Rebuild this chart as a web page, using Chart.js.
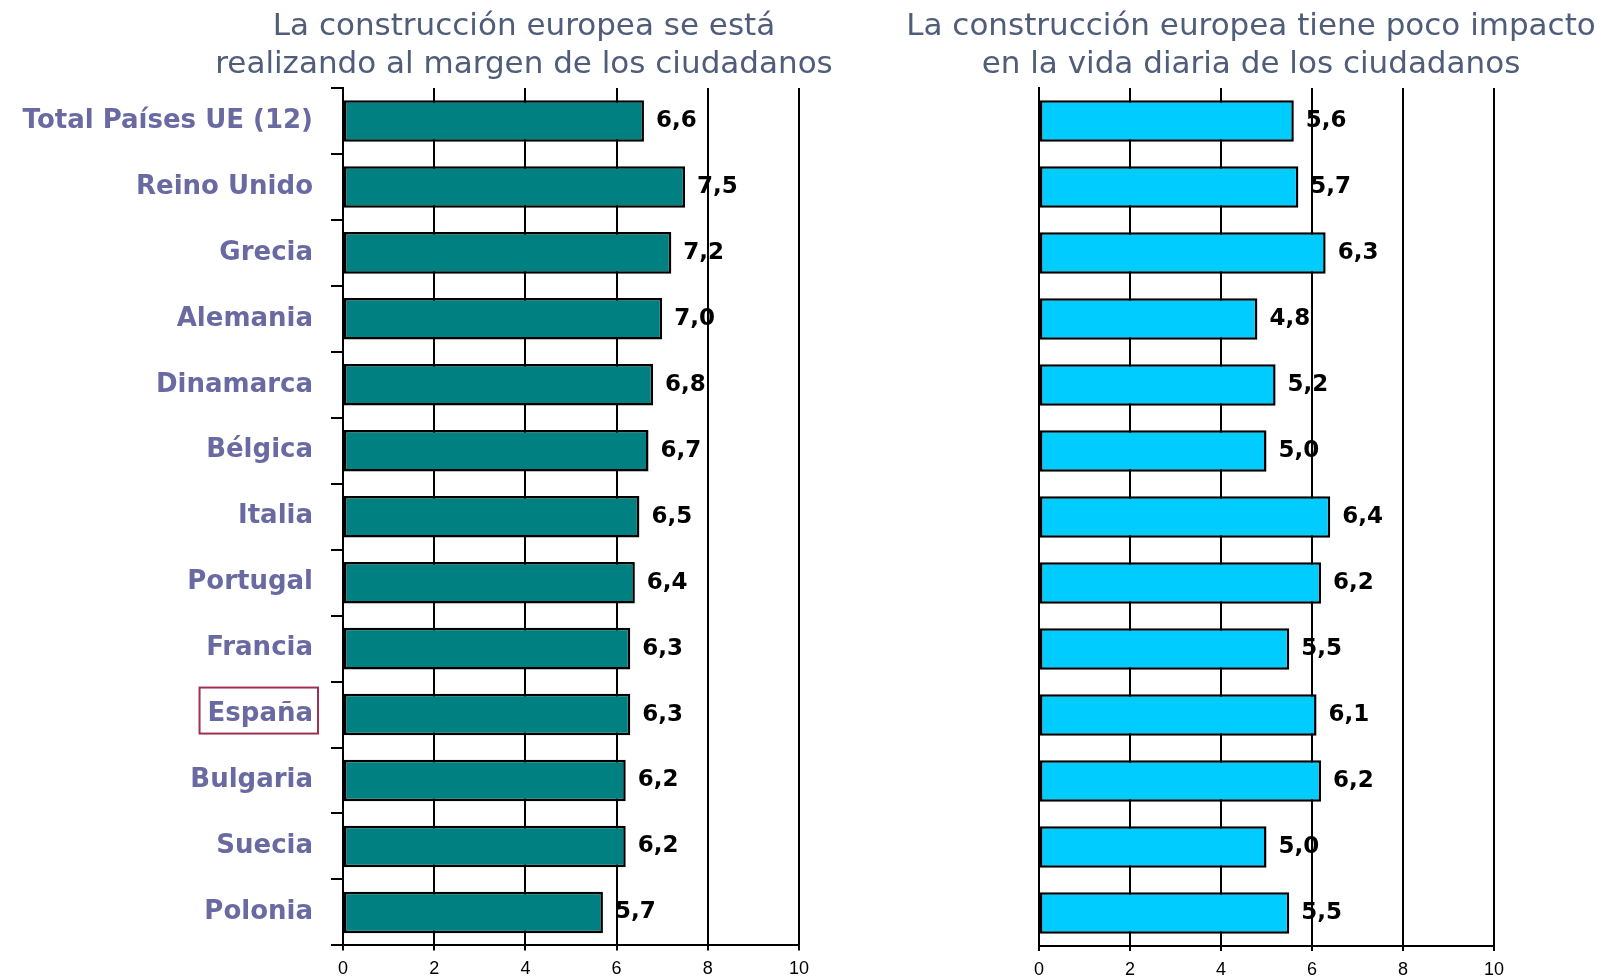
<!DOCTYPE html>
<html lang="es">
<head>
<meta charset="utf-8">
<title>La construcción europea</title>
<script src="https://cdn.jsdelivr.net/npm/chart.js@4.4.1/dist/chart.umd.min.js"></script>
<style>
  body { margin: 0; background: #fff; }
  #izq { position: absolute; left: 0; top: 0; }
  #der { position: absolute; left: 850px; top: 0; }
</style>
</head>
<body>
<canvas id="izq" width="850" height="979"></canvas>
<canvas id="der" width="760" height="979"></canvas>
<script>
// Datos
const paises = ['Total Países UE (12)', 'Reino Unido', 'Grecia', 'Alemania', 'Dinamarca', 'Bélgica',
  'Italia', 'Portugal', 'Francia', 'España', 'Bulgaria', 'Suecia', 'Polonia'];
const margen = [6.6, 7.5, 7.2, 7.0, 6.8, 6.7, 6.5, 6.4, 6.3, 6.3, 6.2, 6.2, 5.7];
const impacto = [5.6, 5.7, 6.3, 4.8, 5.2, 5.0, 6.4, 6.2, 5.5, 6.1, 6.2, 5.0, 5.5];
const ticksX = [0, 2, 4, 6, 8, 10];
const tituloIzq = ['La construcción europea se está', 'realizando al margen de los ciudadanos'];
const tituloDer = ['La construcción europea tiene poco impacto', 'en la vida diaria de los ciudadanos'];
const destacado = 'España';

// Valor al final de cada barra (6,6 ...)
const etiquetas = {
  id: 'etiquetas',
  afterDatasetsDraw(chart) {
    const ctx = chart.ctx;
    const datos = chart.data.datasets[0].data;
    ctx.save();
    ctx.font = 'bold 23px "DejaVu Sans"';
    ctx.fillStyle = '#000';
    ctx.textBaseline = 'middle';
    chart.getDatasetMeta(0).data.forEach((bar, i) => {
      ctx.fillText(datos[i].toFixed(1).replace('.', ','), bar.x + 12, bar.y);
    });
    ctx.restore();
  }
};

// Título de dos líneas
const titulo = {
  id: 'titulo',
  afterDraw(chart, args, opts) {
    const ctx = chart.ctx;
    ctx.save();
    ctx.font = '31px "DejaVu Sans"';
    ctx.fillStyle = '#4f5d7b';
    ctx.textAlign = 'center';
    opts.lineas.forEach((t, i) => ctx.fillText(t, opts.x, 35 + i * 38));
    ctx.restore();
  }
};

// Recuadro alrededor de España
const recuadro = {
  id: 'recuadro',
  afterDraw(chart) {
    const ctx = chart.ctx;
    const i = paises.indexOf(destacado);
    const yc = chart.scales.y.getPixelForTick(i);
    ctx.save();
    ctx.font = 'bold 26px "DejaVu Sans"';
    const w = ctx.measureText(destacado).width;
    const der = chart.chartArea.left - 25;
    ctx.strokeStyle = '#a0304f';
    ctx.lineWidth = 2;
    ctx.strokeRect(der - w - 13, yc - 27, w + 13, 46);
    ctx.restore();
  }
};

function grafico(id, datos, color, conPaises, lineas, xTitulo, anchoEje, margenDer, extra) {
  return new Chart(document.getElementById(id), {
    type: 'bar',
    data: {
      labels: paises,
      datasets: [{
        data: datos,
        backgroundColor: color,
        borderColor: '#000',
        borderWidth: 2.5,
        borderSkipped: false,
        barPercentage: 0.63,
        categoryPercentage: 1
      }]
    },
    options: {
      indexAxis: 'y',
      responsive: false,
      animation: false,
      devicePixelRatio: 1,
      layout: { padding: { top: 88, right: margenDer, left: 0, bottom: 0 } },
      plugins: {
        legend: { display: false },
        tooltip: { enabled: false },
        titulo: { lineas: lineas, x: xTitulo }
      },
      scales: {
        x: {
          min: ticksX[0],
          max: ticksX[ticksX.length - 1],
          afterBuildTicks: s => { s.ticks = ticksX.map(v => ({ value: v })); },
          afterFit: s => { s.height = 33; },
          border: { color: '#000', width: 2 },
          grid: { color: '#000', lineWidth: 2, tickLength: 5 },
          ticks: { color: '#000', padding: 8, font: { family: 'Liberation Sans', size: 18 } }
        },
        y: {
          afterFit: s => { s.width = anchoEje; },
          border: { color: '#000', width: 2 },
          grid: { display: conPaises, drawOnChartArea: false, color: '#000', lineWidth: 2, tickLength: 12 },
          ticks: {
            display: conPaises,
            color: '#6a6aa2',
            padding: 18,
            font: { family: 'DejaVu Sans', size: 26, weight: 'bold' }
          }
        }
      }
    },
    plugins: [etiquetas, titulo].concat(extra)
  });
}

grafico('izq', margen, '#008080', true, tituloIzq, 524, 343, 51, [recuadro]);
grafico('der', impacto, '#00ccff', false, tituloDer, 401, 189, 116, []);
</script>
</body>
</html>
